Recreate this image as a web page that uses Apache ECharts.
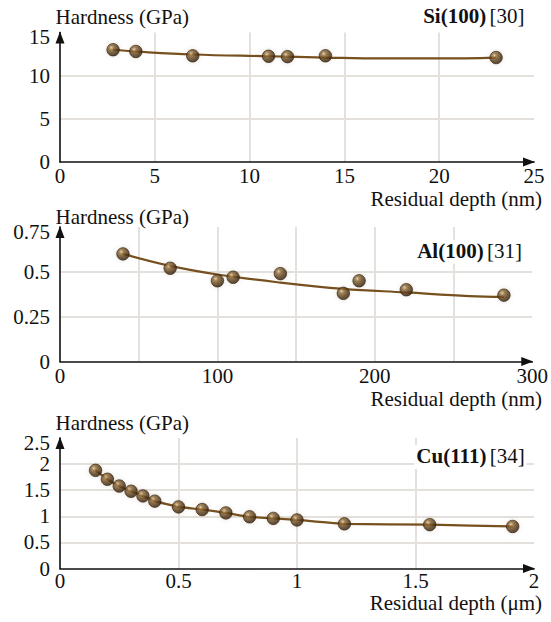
<!DOCTYPE html>
<html>
<head>
<meta charset="utf-8">
<script src="https://cdn.jsdelivr.net/npm/echarts@6/dist/echarts.min.js"></script>
<style>
  html, body { margin: 0; padding: 0; background: #ffffff; }
  #chart { width: 551px; height: 622px; }
</style>
</head>
<body>
<div id="chart"></div>
<script>
// Si(100) [30]
const siDepth = [2.8, 4, 7, 11, 12, 14, 23];
const siHardness = [13.0, 12.8, 12.3, 12.25, 12.2, 12.3, 12.1];
const siFitDepth = [2.8, 4, 7, 11, 14, 17, 20, 23];
const siFitHardness = [13.0, 12.8, 12.45, 12.25, 12.1, 12.0, 12.0, 12.1];

// Al(100) [31]
const alDepth = [40, 70, 100, 110, 140, 180, 190, 220, 282];
const alHardness = [0.60, 0.52, 0.45, 0.47, 0.49, 0.38, 0.45, 0.40, 0.37];
const alFitDepth = [40, 70, 100, 140, 180, 220, 260, 282];
const alFitHardness = [0.60, 0.533, 0.485, 0.44, 0.405, 0.385, 0.365, 0.36];

// Cu(111) [34]
const cuDepth = [0.15, 0.2, 0.25, 0.3, 0.35, 0.4, 0.5, 0.6, 0.7, 0.8, 0.9, 1.0, 1.2, 1.56, 1.91];
const cuHardness = [1.88, 1.71, 1.58, 1.48, 1.39, 1.29, 1.18, 1.13, 1.065, 0.99, 0.96, 0.93, 0.855, 0.84, 0.805];

// Label text
const panelTitles = [
  ['Si(100)', '[30]'],
  ['Al(100)', '[31]'],
  ['Cu(111)', '[34]']
];
const xAxisTitles = ['Residual depth (nm)', 'Residual depth (nm)', 'Residual depth (\u03bcm)'];
const yAxisTitle = 'Hardness (GPa)';

const FONT = '"Liberation Serif", "DejaVu Serif", serif';
const INK = '#111111';
const LINE_COLOR = '#76501f';
const GRID_COLOR = '#e4e1dc';

const pair = (xs, ys) => xs.map((x, i) => [x, ys[i]]);

const ballStyle = {
  color: {
    type: 'radial', x: 0.36, y: 0.33, r: 0.72,
    colorStops: [
      { offset: 0, color: '#e2caa0' },
      { offset: 0.25, color: '#8f6a38' },
      { offset: 0.65, color: '#553814' },
      { offset: 1, color: '#2c1b07' }
    ]
  },
  borderColor: '#2c1b07',
  borderWidth: 0.8,
  shadowColor: 'rgba(120,100,70,0.25)',
  shadowBlur: 4
};

const grids = [
  { left: 60, right: 17, top: 32.5, height: 129.5 },
  { left: 60, right: 17, top: 227, height: 134.5 },
  { left: 60, right: 17, top: 438, height: 130.5 }
];

// The topmost value label of each y axis sits a little lower, clear of the axis title
const topLabelRich = { t: { fontFamily: FONT, fontSize: 21, color: INK, padding: [9, 0, 0, 0] } };

const axisLineStyle = {
  show: true, symbol: ['none', 'triangle'], symbolSize: [9, 12], symbolOffset: [0, -5],
  lineStyle: { color: INK, width: 1.6 }
};

function xAxis(gridIndex, max, interval, margin, formatter) {
  return {
    type: 'value', gridIndex, min: 0, max, interval,
    axisLine: axisLineStyle,
    axisTick: { show: false },
    axisLabel: { color: INK, fontFamily: FONT, fontSize: 21, lineHeight: 18, margin, formatter },
    splitLine: { show: true, showMinLine: false, showMaxLine: false,
      lineStyle: { color: GRID_COLOR, width: 2 } }
  };
}

function yAxis(gridIndex, max, interval) {
  return {
    type: 'value', gridIndex, min: 0, max, interval,
    axisLine: axisLineStyle,
    axisTick: { show: false },
    axisLabel: { color: INK, fontFamily: FONT, fontSize: 21, margin: 10,
      formatter: v => (Math.abs(v - max) < 1e-9 ? '{t|' + v + '}' : String(v)),
      rich: topLabelRich },
    splitLine: { show: true, showMinLine: false, showMaxLine: false,
      lineStyle: { color: GRID_COLOR, width: 2 } }
  };
}

function fitLine(idx, xs, ys, smooth) {
  return {
    type: 'line', xAxisIndex: idx, yAxisIndex: idx, data: pair(xs, ys),
    smooth, showSymbol: false, z: 2, silent: true,
    lineStyle: { color: LINE_COLOR, width: 2.2 }
  };
}

function balls(idx, xs, ys) {
  return {
    type: 'scatter', xAxisIndex: idx, yAxisIndex: idx, data: pair(xs, ys),
    symbol: 'circle', symbolSize: 12.5, z: 3, itemStyle: ballStyle
  };
}

// Free-standing labels: axis titles and panel captions
const textY = [16.7, 216.7, 422.7];
const xTitleY = [198.5, 399, 602.5];
const captionPos = [[526.5, 16.7], [524, 251.7], [526.7, 456.7]];

const graphics = [];
for (let i = 0; i < 3; i++) {
  graphics.push({
    type: 'text', x: 55.5, y: textY[i],
    style: { text: yAxisTitle, font: '21px ' + FONT, fill: INK, align: 'left', verticalAlign: 'middle' }
  });
  graphics.push({
    type: 'text', x: 542, y: xTitleY[i],
    style: { text: xAxisTitles[i], font: '21px ' + FONT, fill: INK, align: 'right',
      verticalAlign: 'middle', lineHeight: 18 }
  });
  graphics.push({
    type: 'text', x: captionPos[i][0], y: captionPos[i][1], z: 10,
    style: {
      text: '{b|' + panelTitles[i][0] + '} {n|' + panelTitles[i][1] + '}',
      align: 'right', verticalAlign: 'middle',
      backgroundColor: '#ffffff', padding: [1, 2, 2, 2],
      rich: {
        b: { fontFamily: FONT, fontSize: 21, fontWeight: 'bold', fill: INK },
        n: { fontFamily: FONT, fontSize: 21, fill: INK }
      }
    }
  });
}

const chart = echarts.init(document.getElementById('chart'), null, { renderer: 'svg' });
chart.setOption({
  backgroundColor: '#ffffff',
  animation: false,
  grid: grids,
  xAxis: [
    xAxis(0, 25, 5, 5),
    xAxis(1, 300, 50, 5, v => (v % 100 === 0 ? String(v) : '')),
    xAxis(2, 2, 0.5, 3)
  ],
  yAxis: [
    yAxis(0, 15, 5),
    yAxis(1, 0.75, 0.25),
    yAxis(2, 2.5, 0.5)
  ],
  series: [
    fitLine(0, siFitDepth, siFitHardness, 0.4),
    balls(0, siDepth, siHardness),
    fitLine(1, alFitDepth, alFitHardness, 0.4),
    balls(1, alDepth, alHardness),
    fitLine(2, cuDepth, cuHardness, 0.1),
    balls(2, cuDepth, cuHardness)
  ],
  graphic: graphics
});
</script>
</body>
</html>
